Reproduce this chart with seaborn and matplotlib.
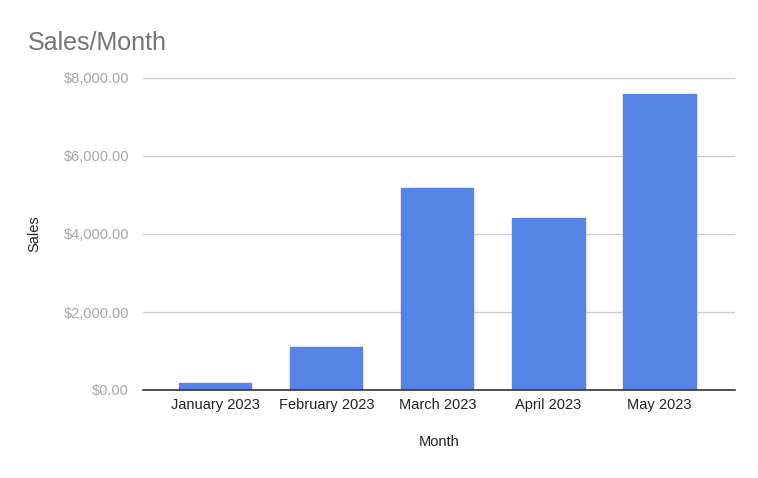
import matplotlib
matplotlib.use("Agg")
import matplotlib.pyplot as plt
import seaborn as sns
import pandas as pd

months = ["January 2023", "February 2023", "March 2023", "April 2023", "May 2023"]
sales = [180, 1100, 5180, 4410, 7590]
ytick_values = [0, 2000, 4000, 6000, 8000]
ytick_labels = ["$0.00", "$2,000.00", "$4,000.00", "$6,000.00", "$8,000.00"]

sns.set_theme(style="white")
plt.rcParams['font.family'] = ['Liberation Sans', 'DejaVu Sans']

df = pd.DataFrame({"Month": months, "Sales": sales})

fig = plt.figure(figsize=(7.58, 4.78), dpi=100)
ax = fig.add_axes([143/758, 1 - 390/478, (735 - 143)/758, (390 - 78)/478])

sns.barplot(data=df, x="Month", y="Sales", color="#5584E6", width=0.65,
            saturation=1, ax=ax, zorder=3, edgecolor="#5584E6")

ax.set_xlim(-0.65, 4.68)
ax.set_ylim(0, 8000)
ax.set_yticks(ytick_values)
ax.set_yticklabels(ytick_labels, color="#a8a8a8", fontsize=10.5)
ax.yaxis.grid(True, color="#cccccc", linewidth=1, zorder=0)
ax.tick_params(axis="y", length=0, pad=10)
ax.tick_params(axis="x", length=0, labelsize=10.5, colors="#222222", pad=6)
for s in ["top", "right", "left"]:
    ax.spines[s].set_visible(False)
ax.spines["bottom"].set_color("#333333")
ax.spines["bottom"].set_linewidth(1.2)
ax.spines["bottom"].set_zorder(4)

ax.set_xlabel("Month", fontsize=10.5, color="#222222", labelpad=16)
ax.set_ylabel("Sales", fontsize=10.5, color="#222222", labelpad=16)

fig.text(28/758, 1 - 43/478, "Sales/Month", fontsize=18, color="#757575",
         ha="left", va="center")

fig.savefig("out.png", dpi=100)
